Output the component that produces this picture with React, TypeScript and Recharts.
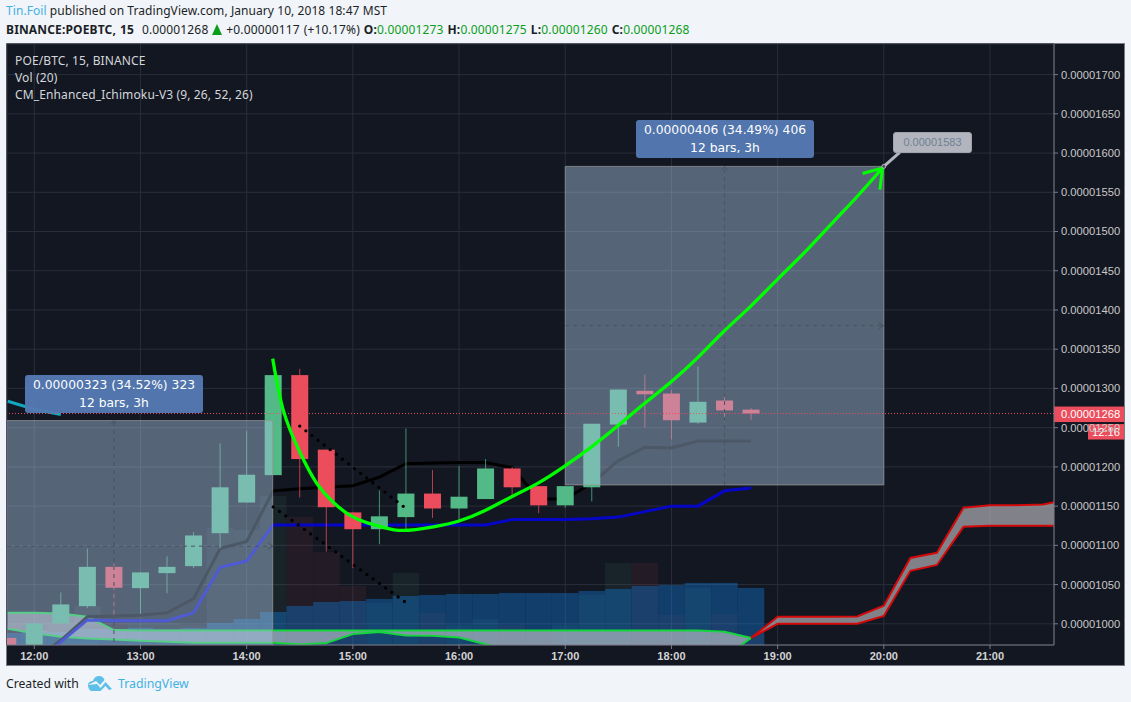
import React from "react";
import { ComposedChart, XAxis, YAxis, CartesianGrid, Bar, Line, Area, ReferenceArea, ReferenceLine, ReferenceDot } from "recharts";

const FIRST_BAR = -1;
const opens = [982,965,1000.5,1022.5,1072.6,1045.5,1064.6,1073.5,1115.5,1154.6,1189.5,1317,1222,1142,1120.6,1136,1166,1147,1159,1198,1175.5,1151,1174,1254,1297,1293.5,1256.5,1284.6,1273];
const closes = [960,1000.5,1024.7,1072.6,1046,1065.5,1072.6,1112.6,1174,1190,1317,1210,1148.6,1120.6,1137,1166,1147,1162,1198,1174,1151,1175.5,1255,1298.6,1292.6,1259.5,1283,1272,1268];
const highs = [982,1000.5,1040,1096,1077,1066,1086,1117,1230,1246,1317,1325,1222,1142,1170,1249,1196,1201,1210,1200,1175.5,1175.5,1255,1298.6,1318,1298,1328,1293.5,1275];
const lows = [950,950,1000,1020,1009,1013,1039,1071,1096,1154.6,1189.5,1161,1092,1071,1101.5,1119,1135,1132,1159,1162,1141,1148,1156,1225.5,1250,1235,1255,1258,1260];
const volumes = [20,15,22,39,22,22,22,20,117,115,149,128,93,59,42,72,32,20,26,20,15,20,50,82,82,30,57,31,10];
const volumeMA = [12,14,13,16,16,17,16,17,22,26,33,39,43,44,46,49,50,51,51,52,52,52,54,56,59,60,62,62,57];
const blackLine = [null,954,979,1009,1010,1011,1014,1032,1096,1105,1169.5,1172,1174,1176,1187,1204,1205,1205.5,1205.5,1199,1159,1159,1179,1208,1225,1224,1233,1233,1233];
const blueLine = [null,945,977,1005,1004,1004,1004,1014,1072,1080,1126,1126,1126,1126,1126,1126,1126,1126,1126,1133,1133,1133,1134,1136,1143,1150,1150,1169.5,1173];
const cloudGreenTop = [1014,1014,1013,1009,992,991.6,991.6,991.6,991.6,991.6,991.6,991.6,991.6,991.6,991.6,991.6,991.6,991.6,991.6,991.6,991.6,991.6,991.6,991.6,991.6,991.6,991.6,990,982];
const cloudGreenBottom = [993.7,988,983.5,981.4,980,978.4,977,976,976,976,976,973.7,975.4,987,989.5,985,984.8,982.6,974,966,960,960,960,960,960,960,960,958,982];
// the red cloud starts on the last green bar (27) and runs to bar 39
const cloudRedTop = [982,1009,1009,1009,1009.4,1023,1084,1090.5,1148,1151,1151,1152,1159];
const cloudRedBottom = [982,1000,1000,1000,1000,1010,1067.6,1075,1123.6,1125,1125,1125,1125];
const RED_FIRST = 27;
const LAST_BAR = 39;

const hourTicks = [0,4,8,12,16,20,24,28,32,36];
const hourLabels = ["12:00","13:00","14:00","15:00","16:00","17:00","18:00","19:00","20:00","21:00"];
const priceTicks = [1000,1050,1100,1150,1200,1250,1300,1350,1400,1450,1500,1550,1600,1650,1700];

const laggingLine = [{ i: -1, v: 1283.7 }, { i: 0, v: 1273.5 }, { i: 1, v: 1266.7 }];
const dotsUpper = [{ i: 10, v: 1252 }, { i: 14, v: 1147 }];
const dotsLower = [{ i: 9, v: 1149 }, { i: 14, v: 1027 }];
const curve = [[8.98,1338],[9.38,1272],[10,1219],[10.64,1179],[11.26,1155],[11.88,1138.5],[12.52,1129],[13.15,1123],[13.9,1119],[15.03,1123.6],[16,1131],[16.96,1144],[17.98,1162],[18.96,1179],[19.98,1201],[20.99,1225.5],[21.97,1252],[22.99,1281],[23.97,1308],[24.95,1338],[25.95,1372],[26.96,1404],[28.02,1440],[29.09,1476],[30.09,1512],[30.98,1544],[31.95,1581]].map(([i, v]) => ({ i, v }));
const arrowHead = [{ i: 31.2, v: 1574 }, { i: 31.95, v: 1581 }, { i: 31.85, v: 1553.4 }];
const pointer = [{ i: 32, v: 1583 }, { i: 32.6, v: 1601 }];

// small arrowheads closing the dashed measure lines
const chevrons = [
  [[2.89,1254],[3,1259],[3.11,1254]],
  [[25.89,1578],[26,1583],[26.11,1578]],
  [[8.8,1103],[8.98,1099],[8.8,1095]],
  [[31.8,1384],[32,1380],[31.8,1376]],
];

const rows: any[] = [];
for (let i = FIRST_BAR; i <= LAST_BAR; i++) {
  const k = i - FIRST_BAR;
  const r = i - RED_FIRST;
  rows.push({
    i,
    o: opens[k], h: highs[k], l: lows[k], c: closes[k],
    volUp: closes[k] >= opens[k] ? volumes[k] : null,
    volDown: closes[k] < opens[k] ? volumes[k] : null,
    ma: volumeMA[k] ?? null,
    black: blackLine[k] ?? null,
    blue: blueLine[k] ?? null,
    green: k < cloudGreenTop.length ? [cloudGreenBottom[k], cloudGreenTop[k]] : null,
    red: r >= 0 ? [cloudRedBottom[r], cloudRedTop[r]] : null,
  });
}

const BG = "#131722";
const UP = "#53b987";
const DOWN = "#eb4d5c";
const DOMAIN: [number, number] = [-1.028, 38.41];
const UI = "'Noto Sans', sans-serif";
const MONO = "'Liberation Sans', Arial, sans-serif";
const BAR_W = 26.5;

const Candle = (props: any) => {
  const { x, y, width, height, payload } = props;
  if (payload.o == null || !(height > 0)) return null;
  const k = height / (payload.h - payload.l);
  const at = (v: number) => y + (payload.h - v) * k;
  const cx = x + width / 2;
  const color = payload.c >= payload.o ? UP : DOWN;
  const top = at(Math.max(payload.o, payload.c));
  const bottom = at(Math.min(payload.o, payload.c));
  return (
    <g>
      <line x1={cx} x2={cx} y1={y} y2={y + height} stroke={color} strokeWidth={1} opacity={0.75} />
      <rect x={cx - 8.5} width={17} y={top} height={Math.max(bottom - top, 1)} fill={color} />
    </g>
  );
};

const PriceTag = (props: any) => {
  const { viewBox } = props;
  const right = viewBox.x + viewBox.width;
  const y = viewBox.y;
  const style = { fontFamily: MONO, fontSize: 11.2, fill: "#ffffff" };
  return (
    <g>
      <rect x={right} y={y - 7} width={70} height={15.5} fill={DOWN} />
      <text x={right + 7} y={y + 4.5} style={style}>0.00001268</text>
      <rect x={right + 34} y={y + 10.5} width={36} height={15.5} fill={DOWN} />
      <text x={right + 38} y={y + 22.5} style={style}>12:16</text>
    </g>
  );
};

const abs = (left: number, top: number, extra: any = {}): any => ({ position: "absolute", left, top, whiteSpace: "nowrap", ...extra });
const gv = { color: "#0a9e1c" };
const Measure = ({ left, top, lines }: { left: number; top: number; lines: string[] }) => (
  <div style={abs(left, top, { width: 178, height: 38, background: "rgba(84,122,178,0.96)", borderRadius: 3, color: "#fff", fontFamily: "'DejaVu Sans', sans-serif", fontSize: 12.3, lineHeight: "17.5px", textAlign: "center", paddingTop: 2, boxSizing: "border-box" })}>
    {lines.map((t) => <div key={t}>{t}</div>)}
  </div>
);

export default function App() {
  const hiddenX = (id: string) => (
    <XAxis xAxisId={id} dataKey="i" type="number" domain={DOMAIN} allowDataOverflow hide />
  );
  const overlay = { fill: "rgb(168,196,227)", fillOpacity: 0.45, stroke: "rgba(150,150,150,0.75)", ifOverflow: "hidden" as const, zIndex: 50 };
  const dash = { stroke: "#4a5462", strokeWidth: 1, strokeDasharray: "4 4", ifOverflow: "hidden" as const, zIndex: 55 };
  return (
    <div style={{ position: "absolute", left: 0, top: 0, width: 1131, height: 702, background: "#f1f4f8", overflow: "hidden", fontFamily: UI }}>
      <div style={abs(6, 3, { fontSize: 12, letterSpacing: 0.07, color: "#1b1f27", lineHeight: "16px" })}>
        <span style={{ color: "#41b1e4" }}>Tin.Foil</span> published on TradingView.com, January 10, 2018 18:47 MST
      </div>
      <div style={abs(6, 22, { fontSize: 12, letterSpacing: 0.15, wordSpacing: 0.7, color: "#1b1f27", lineHeight: "16px" })}>
        <b>BINANCE:POEBTC, 15</b>&nbsp; 0.00001268 <span style={{ display: "inline-block", width: 0, height: 0, borderLeft: "5.5px solid transparent", borderRight: "5.5px solid transparent", borderBottom: "11px solid #0a9e1c", verticalAlign: "-1px" }} /> +0.00000117 (+10.17%) <b>O:</b><span style={gv}>0.00001273</span> <b>H:</b><span style={gv}>0.00001275</span> <b>L:</b><span style={gv}>0.00001260</span> <b>C:</b><span style={gv}>0.00001268</span>
      </div>
      <div style={abs(6, 43, { width: 1119, height: 623, boxSizing: "border-box", background: BG, border: "1px solid #787b86" })} />
      <div style={abs(0, 0)}>
        <ComposedChart width={1131} height={702} data={rows} margin={{ top: 44, left: 7, right: 6, bottom: 37 }}>
          <CartesianGrid stroke="#2a2e39" strokeWidth={1} xAxisId={0} yAxisId={0} />
          <XAxis xAxisId={0} dataKey="i" type="number" domain={DOMAIN} allowDataOverflow ticks={hourTicks} interval={0} height={20} tickSize={4} tickMargin={3}
            tickFormatter={(v: number) => hourLabels[hourTicks.indexOf(v)]}
            stroke="#787b86" tick={{ fill: "#d4d4d4", fontSize: 11, fontWeight: 700, fontFamily: MONO }} />
          {hiddenX("volUpX")}
          {hiddenX("volDownX")}
          {hiddenX("maX")}
          {hiddenX("candleX")}
          <YAxis yAxisId={0} orientation="right" type="number" width={71} domain={[973, 1739]} allowDataOverflow ticks={priceTicks} interval={0} tickSize={4} tickMargin={3}
            tickFormatter={(v: number) => "0.0000" + v.toFixed(0)}
            stroke="#787b86" tick={{ fill: "#c8c8c8", fontSize: 11.2, fontFamily: MONO }} />
          <YAxis yAxisId="vol" type="number" domain={[0, 601]} hide />

          <Bar xAxisId="volUpX" yAxisId="vol" dataKey="volUp" barSize={BAR_W} fill="rgba(83,185,135,0.08)" isAnimationActive={false} zIndex={10} />
          <Bar xAxisId="volDownX" yAxisId="vol" dataKey="volDown" barSize={BAR_W} fill="rgba(235,77,92,0.08)" isAnimationActive={false} zIndex={10} />
          <Bar xAxisId="maX" yAxisId="vol" dataKey="ma" barSize={BAR_W} fill="rgba(13,134,240,0.35)" isAnimationActive={false} zIndex={11} />

          <Area dataKey="green" stroke="#14d63c" strokeWidth={2} fill="rgba(208,208,212,0.58)" fillOpacity={1} isAnimationActive={false} connectNulls={false} dot={false} activeDot={false} zIndex={20} />
          <Area dataKey="red" stroke="#d40a0a" strokeWidth={2} fill="rgba(208,208,212,0.58)" fillOpacity={1} isAnimationActive={false} connectNulls={false} dot={false} activeDot={false} zIndex={20} />

          <Line dataKey="black" stroke="#000000" strokeWidth={3} dot={false} activeDot={false} isAnimationActive={false} zIndex={30} />
          <Line dataKey="blue" stroke="#0606c8" strokeWidth={3} dot={false} activeDot={false} isAnimationActive={false} zIndex={30} />
          <Line data={laggingLine} dataKey="v" stroke="#10a8bd" strokeWidth={3} dot={false} activeDot={false} isAnimationActive={false} zIndex={30} />

          <Bar xAxisId="candleX" dataKey={(d: any) => (d.o == null ? null : [d.l, d.h])} barSize={BAR_W} shape={<Candle />} isAnimationActive={false} zIndex={40} />

          <ReferenceArea x1={-3} x2={8.98} y1={936} y2={1259} {...overlay} />
          <ReferenceArea x1={20} x2={32} y1={1177} y2={1583} {...overlay} />
          <ReferenceLine segment={[{ x: 3, y: 936 }, { x: 3, y: 1259 }]} {...dash} />
          <ReferenceLine segment={[{ x: -1.028, y: 1099 }, { x: 8.98, y: 1099 }]} {...dash} />
          <ReferenceLine segment={[{ x: 26, y: 1177 }, { x: 26, y: 1583 }]} {...dash} />
          <ReferenceLine segment={[{ x: 20, y: 1380 }, { x: 32, y: 1380 }]} {...dash} />
          {chevrons.flatMap((c, n) => [0, 1].map((s) => (
            <ReferenceLine key={`${n}-${s}`} segment={[{ x: c[s][0], y: c[s][1] }, { x: c[s + 1][0], y: c[s + 1][1] }]} stroke="#4a5462" strokeWidth={1} ifOverflow="hidden" zIndex={55} />
          )))}

          <ReferenceLine y={1268} stroke={DOWN} strokeWidth={1} strokeDasharray="1 2" label={<PriceTag />} zIndex={60} />

          <Line data={dotsUpper} dataKey="v" stroke="#000" strokeWidth={3.3} strokeLinecap="round" strokeDasharray="0 7.7" dot={false} activeDot={false} isAnimationActive={false} zIndex={70} />
          <Line data={dotsLower} dataKey="v" stroke="#000" strokeWidth={3.3} strokeLinecap="round" strokeDasharray="0 7.7" dot={false} activeDot={false} isAnimationActive={false} zIndex={70} />
          <Line data={pointer} dataKey="v" stroke="#b2b5be" strokeWidth={3} dot={false} activeDot={false} isAnimationActive={false} zIndex={70} />
          <Line data={curve} dataKey="v" type="natural" stroke="#00ff00" strokeWidth={3.3} dot={false} activeDot={false} isAnimationActive={false} zIndex={75} />
          <Line data={arrowHead} dataKey="v" stroke="#00ff00" strokeWidth={3} dot={false} activeDot={false} isAnimationActive={false} zIndex={75} />
          <ReferenceDot x={32} y={1583} r={2} fill="#555" stroke="#b2b5be" strokeWidth={1} zIndex={80} />
        </ComposedChart>
      </div>

      <div style={abs(15, 52, { fontSize: 12, letterSpacing: 0.13, color: "#d4d6da", lineHeight: "17px" })}>
        <div>POE/BTC, 15, BINANCE</div>
        <div>Vol (20)</div>
        <div>CM_Enhanced_Ichimoku-V3 (9, 26, 52, 26)</div>
      </div>
      <Measure left={25} top={375} lines={["0.00000323 (34.52%) 323", "12 bars, 3h"]} />
      <Measure left={636} top={120} lines={["0.00000406 (34.49%) 406", "12 bars, 3h"]} />
      <div style={abs(893, 132, { width: 79, height: 21, boxSizing: "border-box", background: "#b2b5be", border: "1px solid #a0a3ac", borderRadius: 3, color: "#6f8192", fontFamily: MONO, fontSize: 11, lineHeight: "19px", textAlign: "center" })}>0.00001583</div>

      <div style={abs(6, 675, { fontSize: 12.2, color: "#1b1f27", lineHeight: "18px" })}>Created with</div>
      <svg style={abs(88, 675)} width={24} height={16} viewBox="0 0 24 16">
        <path d="M0 10 C0 7 3 6 5 6 C6 2 9 1 11 1 C14 1 16 3 16.5 5 L12 10 L8 6 Z M9 9 L12.5 13 L17.5 7 L24 14 L21 15 L17.5 11 L12.5 16 L3 16 C1 15 0 12 0 10 Z" fill="#5ec0e8" />
      </svg>
      <div style={abs(118, 675, { fontSize: 12.3, color: "#41b1e4", lineHeight: "18px" })}>TradingView</div>
    </div>
  );
}
